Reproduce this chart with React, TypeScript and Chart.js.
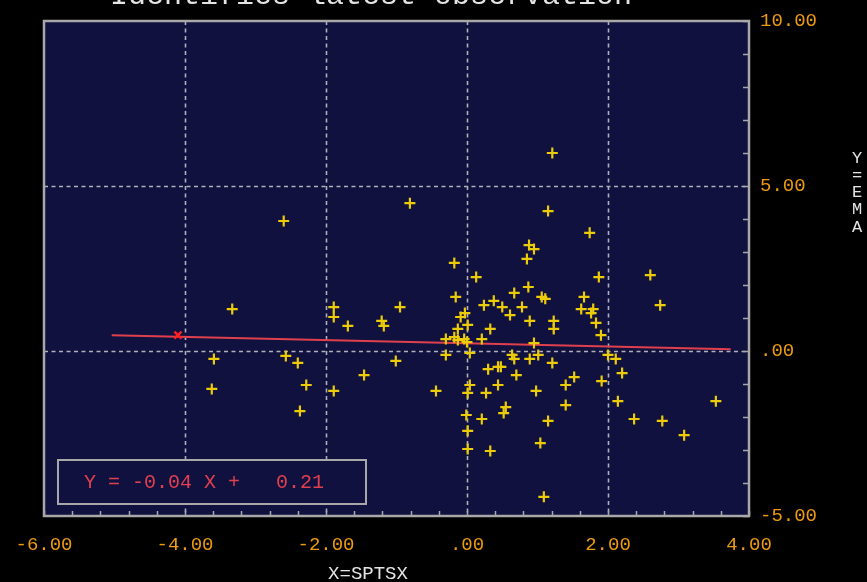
import React, { useEffect, useRef } from "react";
import { Chart, registerables } from "chart.js";

Chart.register(...registerables);

const chartTitle = "Identifies latest observation";
const xAxisTitle = "X=SPTSX";
const yAxisTitle = "Y=EMA";
const equationText = "Y = -0.04 X +   0.21";

const xTickValues = [-6, -4, -2, 0, 2, 4];
const xTickLabels = ["-6.00", "-4.00", "-2.00", ".00", "2.00", "4.00"];
const yTickValues = [-5, 0, 5, 10];
const yTickLabels = ["-5.00", ".00", "5.00", "10.00"];
const xGridValues = [-4, -2, 0, 2];
const yGridValues = [0, 5];

const obsX = [
  -2.60, -0.81, 1.21, 1.15, 1.74, 0.88, 0.95, 0.85, -0.18, 0.13,
  1.87, 2.60, -3.33, -1.89, -1.89, -1.69, -1.21, -1.18, -0.95, -0.16,
  0.87, 0.67, 1.06, 1.11, 1.66, 2.74, 0.24, 0.38, 0.50, 0.78,
  0.61, 1.62, 1.79, 1.76, -0.09, -0.03, 0.01, -0.13, 0.33, 0.89,
  1.23, 1.23, 1.83, 1.90, -0.30, -0.18, -0.13, -0.04, 0.00, 0.21,
  0.95, -3.59, -3.62, -2.57, -2.40, -2.28, -2.37, -1.89, -1.46, -1.01,
  -0.30, 0.04, 0.64, 0.67, 0.89, 1.01, 1.21, 2.00, 2.11, 2.20,
  1.91, 1.52, 1.40, 1.40, 2.14, 2.37, 2.77, 3.08, 3.53, -0.44,
  0.04, 0.01, 0.30, 0.44, 0.48, 0.44, 0.27, 0.70, 0.98, -0.01,
  0.21, 0.55, 0.52, 1.15, 0.01, 0.01, 0.33, 1.04, 1.09,
];
const obsY = [
  3.94, 4.48, 6.00, 4.24, 3.58, 3.21, 3.09, 2.79, 2.67, 2.24,
  2.24, 2.30, 1.27, 1.33, 1.03, 0.76, 0.91, 0.76, 1.33, 1.64,
  1.94, 1.76, 1.64, 1.58, 1.64, 1.39, 1.39, 1.52, 1.33, 1.33,
  1.09, 1.27, 1.27, 1.15, 1.03, 1.15, 0.79, 0.67, 0.67, 0.91,
  0.91, 0.67, 0.85, 0.48, 0.36, 0.42, 0.33, 0.36, 0.27, 0.36,
  0.24, -0.24, -1.15, -0.15, -0.36, -1.03, -1.82, -1.21, -0.73, -0.30,
  -0.12, -0.06, -0.12, -0.24, -0.24, -0.12, -0.36, -0.12, -0.24, -0.67,
  -0.91, -0.79, -1.03, -1.64, -1.52, -2.06, -2.12, -2.55, -1.52, -1.21,
  -1.03, -1.27, -0.55, -0.48, -0.48, -1.03, -1.27, -0.73, -1.21, -1.94,
  -2.06, -1.70, -1.88, -2.12, -2.42, -2.97, -3.03, -2.79, -4.42,
];

const regX = [-5.04, 3.74];
const regY = [0.48, 0.05];

const latestX = [-4.10];
const latestY = [0.48];

const xMinorStep = 0.4;
const yMinorStep = 1;

const BG = "#000000";
const PLOT_BG = "#111140";
const FRAME = "#a8a8a8";
const GRID = "#b0b0b8";
const ORANGE = "#ec9a10";
const YELLOW = "#eccc08";
const RED_LINE = "#e0404e";
const RED_MARK = "#ff2020";
const TEXT = "#e4e4e4";
const MONO = "'Liberation Mono', 'DejaVu Sans Mono', monospace";

const decorPlugin = {
  id: "decor",
  beforeDraw(chart: any) {
    const { ctx, chartArea: a } = chart;
    ctx.save();
    ctx.fillStyle = BG;
    ctx.fillRect(0, 0, chart.width, chart.height);
    ctx.fillStyle = PLOT_BG;
    ctx.fillRect(a.left, a.top, a.right - a.left, a.bottom - a.top);
    ctx.restore();
  },
  beforeDatasetsDraw(chart: any) {
    const { ctx, chartArea: a, scales } = chart;
    const xs = scales.x;
    const ys = scales.y;
    ctx.save();
    ctx.strokeStyle = GRID;
    ctx.lineWidth = 1.6;
    ctx.setLineDash([4, 3.5]);
    xGridValues.forEach((v) => {
      const px = Math.round(xs.getPixelForValue(v)) + 0.5;
      ctx.beginPath();
      ctx.moveTo(px, a.top);
      ctx.lineTo(px, a.bottom);
      ctx.stroke();
    });
    yGridValues.forEach((v) => {
      const py = Math.round(ys.getPixelForValue(v)) + 0.5;
      ctx.beginPath();
      ctx.moveTo(a.left, py);
      ctx.lineTo(a.right, py);
      ctx.stroke();
    });
    ctx.setLineDash([]);
    ctx.strokeStyle = FRAME;
    ctx.lineWidth = 1.5;
    for (let v = xs.min; v <= xs.max + 1e-6; v += xMinorStep) {
      const px = Math.round(xs.getPixelForValue(v)) + 0.5;
      ctx.beginPath();
      ctx.moveTo(px, a.bottom);
      ctx.lineTo(px, a.bottom - 5);
      ctx.stroke();
    }
    for (let v = ys.min; v <= ys.max + 1e-6; v += yMinorStep) {
      const py = Math.round(ys.getPixelForValue(v)) + 0.5;
      ctx.beginPath();
      ctx.moveTo(a.right, py);
      ctx.lineTo(a.right - 6, py);
      ctx.stroke();
    }
    ctx.restore();
  },
  afterDraw(chart: any) {
    const { ctx, chartArea: a } = chart;
    ctx.save();
    ctx.strokeStyle = FRAME;
    ctx.lineWidth = 2.5;
    ctx.strokeRect(a.left, a.top, a.right - a.left, a.bottom - a.top);

    ctx.fillStyle = PLOT_BG;
    ctx.fillRect(58, 460, 308, 44);
    ctx.lineWidth = 2;
    ctx.strokeRect(58, 460, 308, 44);
    ctx.fillStyle = RED_LINE;
    ctx.font = `20px ${MONO}`;
    ctx.textBaseline = "middle";
    ctx.textAlign = "left";
    ctx.fillText(equationText, 84, 483);

    ctx.fillStyle = TEXT;
    ctx.font = `30px ${MONO}`;
    ctx.textAlign = "center";
    ctx.textBaseline = "alphabetic";
    ctx.fillText(chartTitle, 371, 4);

    ctx.font = `19px ${MONO}`;
    ctx.textBaseline = "middle";
    ctx.fillText(xAxisTitle, 368, 574);

    ctx.font = `17px ${MONO}`;
    const chars = yAxisTitle.split("");
    chars.forEach((c, i) => {
      ctx.fillText(c, 857, 158 + i * 17.3);
    });
    ctx.restore();
  },
};

export default function App() {
  const ref = useRef<HTMLCanvasElement | null>(null);

  useEffect(() => {
    document.body.style.margin = "0";
    document.body.style.background = "#000";
    const canvas = ref.current;
    if (!canvas) return;
    const chart = new Chart(canvas, {
      type: "scatter",
      data: {
        datasets: [
          {
            label: "latest",
            data: latestX.map((x, i) => ({ x, y: latestY[i] })),
            pointStyle: "crossRot",
            pointRadius: 5,
            borderColor: RED_MARK,
            backgroundColor: RED_MARK,
            borderWidth: 2.5,
            order: 0,
          },
          {
            label: "obs",
            data: obsX.map((x, i) => ({ x, y: obsY[i] })),
            pointStyle: "cross",
            pointRadius: 5.5,
            borderColor: YELLOW,
            backgroundColor: YELLOW,
            borderWidth: 2.2,
            order: 1,
          },
          {
            label: "regression",
            data: regX.map((x, i) => ({ x, y: regY[i] })),
            showLine: true,
            pointRadius: 0,
            borderColor: RED_LINE,
            borderWidth: 2,
            order: 2,
          } as any,
        ],
      },
      options: {
        responsive: false,
        animation: false,
        layout: { padding: { left: 44, top: 21, right: 0, bottom: 0 } },
        plugins: {
          legend: { display: false },
          tooltip: { enabled: false },
          title: { display: false },
        },
        scales: {
          x: {
            type: "linear",
            position: "bottom",
            min: -6,
            max: 4,
            grid: { display: false, drawTicks: false },
            border: { display: false },
            ticks: {
              stepSize: 2,
              autoSkip: false,
              maxRotation: 0,
              padding: 18,
              color: ORANGE,
              font: { family: MONO, size: 19 },
              callback: (v: any) => {
                const i = xTickValues.indexOf(Number(v));
                return i >= 0 ? xTickLabels[i] : "";
              },
            },
            afterFit: (s: any) => {
              s.height = 66;
              s.paddingLeft = 0;
              s.paddingRight = 0;
            },
          },
          y: {
            type: "linear",
            position: "right",
            min: -5,
            max: 10,
            grid: { display: false, drawTicks: false },
            border: { display: false },
            ticks: {
              stepSize: 5,
              autoSkip: false,
              padding: 11,
              color: ORANGE,
              font: { family: MONO, size: 19 },
              callback: (v: any) => {
                const i = yTickValues.indexOf(Number(v));
                return i >= 0 ? yTickLabels[i] : "";
              },
            },
            afterFit: (s: any) => {
              s.width = 118;
              s.paddingTop = 0;
              s.paddingBottom = 0;
            },
          },
        },
      } as any,
      plugins: [decorPlugin],
    });
    return () => chart.destroy();
  }, []);

  return (
    <div style={{ position: "fixed", left: 0, top: 0, width: 867, height: 582, background: "#000" }}>
      <canvas ref={ref} width={867} height={582} style={{ display: "block" }} />
    </div>
  );
}
